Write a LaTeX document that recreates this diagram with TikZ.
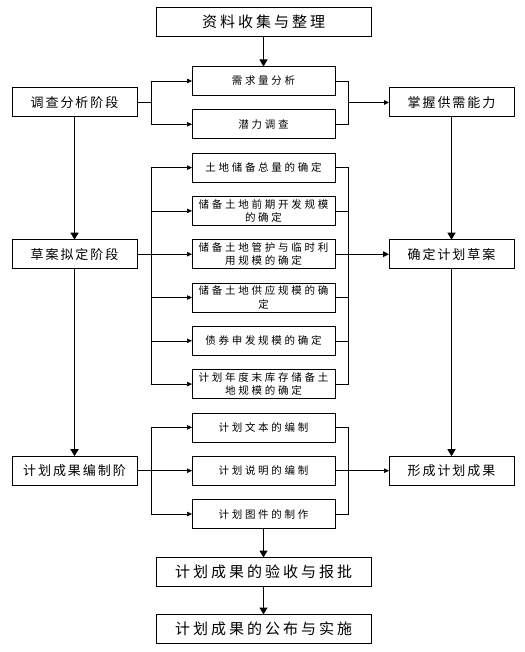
\documentclass[tikz,border=0pt]{standalone}
\usepackage{fontspec}
\newfontfamily\cjk{Noto Sans CJK SC}
\usetikzlibrary{arrows.meta,positioning}

\begin{document}
\begin{tikzpicture}[x=1pt,y=-1pt,
  every node/.style={outer sep=0pt},
  head/.style={draw,line width=1pt,minimum width=215pt,minimum height=29pt,inner sep=0pt,
               font=\fontsize{15}{17}\cjk\addfontfeature{LetterSpace=20}},
  stage/.style={draw,line width=1pt,minimum width=125pt,minimum height=29pt,inner sep=0pt,
                font=\fontsize{13}{15}\cjk\addfontfeature{LetterSpace=15}},
  task/.style={draw,line width=0.8pt,minimum width=143pt,minimum height=29pt,inner sep=0pt,
               align=center,font=\fontsize{10.5}{13.5}\cjk\addfontfeature{LetterSpace=26}},
  arr/.style={-{Triangle[length=7pt,width=8pt]},line width=1.3pt},
  tarr/.style={-{Triangle[length=5pt,width=4.5pt]},line width=0.6pt},
  node distance=14.3pt
]
  \useasboundingbox (0,0) rectangle (524,652);

  % Top
  \node[head] (collect) at (263.5,22) {资料收集与整理};

  % Middle column
  \node[task,below=30pt of collect] (demand)   {需求量分析};
  \node[task,below=of demand]      (potential) {潜力调查};
  \node[task,below=of potential]   (total)    {土地储备总量的确定};
  \node[task,below=of total]       (predev)   {储备土地前期开发规模\\的确定};
  \node[task,below=of predev]      (manage)   {储备土地管护与临时利\\用规模的确定};
  \node[task,below=of manage]      (supply)   {储备土地供应规模的确\\定};
  \node[task,below=of supply]      (bond)     {债券申发规模的确定};
  \node[task,below=of bond]        (stock)    {计划年度末库存储备土\\地规模的确定};
  \node[task,below=of stock]       (text)     {计划文本的编制};
  \node[task,below=of text]        (explain)  {计划说明的编制};
  \node[task,below=of explain]     (maps)     {计划图件的制作};

  % Left and right columns
  \node[stage] (survey) at (74.5,102.5) {调查分析阶段};
  \node[stage,left=55pt of manage]   (draft)   {草案拟定阶段};
  \node[stage,left=55pt of explain]  (compose) {计划成果编制阶};
  \node[stage] (grasp) at (451.5,102.5) {掌握供需能力};
  \node[stage,right=54pt of manage]  (confirm) {确定计划草案};
  \node[stage,right=54pt of explain] (result)  {形成计划成果};

  % Bottom
  \node[head,below=29pt of maps]    (accept)  {计划成果的验收与报批};
  \node[head,below=28pt of accept]  (publish) {计划成果的公布与实施};

  \draw[arr] (collect) -- (demand);
  \draw[arr] (survey)  -- (draft);
  \draw[arr] (draft)   -- (compose);
  \draw[arr] (grasp)   -- (confirm);
  \draw[arr] (confirm) -- (result);
  \draw[arr] (maps)    -- (accept);
  \draw[arr] (accept)  -- (publish);

  % Survey group
  \foreach \t in {demand,potential}
    \draw[tarr] (survey.east) -- ++(14pt,0) |- (\t.west);
  \draw[line width=0.6pt] (demand.east) -- ++(13pt,0) coordinate (jg) |- (potential.east);
  \draw[-{Triangle[length=5pt,width=4.5pt]},line width=1pt] (jg |- grasp.west) -- (grasp.west);

  % Draft group
  \foreach \t in {total,predev,manage,supply,bond,stock}
    \draw[tarr] (draft.east) -- ++(14pt,0) |- (\t.west);
  \draw[line width=1.3pt] (draft.east) -- ++(14pt,0);
  \draw[line width=0.6pt] (total.east) -- ++(13pt,0) coordinate (jc) |- (stock.east);
  \foreach \t in {predev,manage,supply,bond}
    \draw[line width=0.6pt] (\t.east) -- (\t.east -| jc);
  \draw[-{Triangle[length=6pt,width=5.5pt]},line width=1.3pt] (jc |- confirm.west) -- (confirm.west);

  % Compose group
  \foreach \t in {text,explain,maps}
    \draw[tarr] (compose.east) -- ++(14pt,0) |- (\t.west);
  \draw[line width=0.6pt] (text.east) -- ++(13pt,0) |- (maps.east);
  \draw[tarr] (explain.east) -- (result.west);
\end{tikzpicture}
\end{document}
